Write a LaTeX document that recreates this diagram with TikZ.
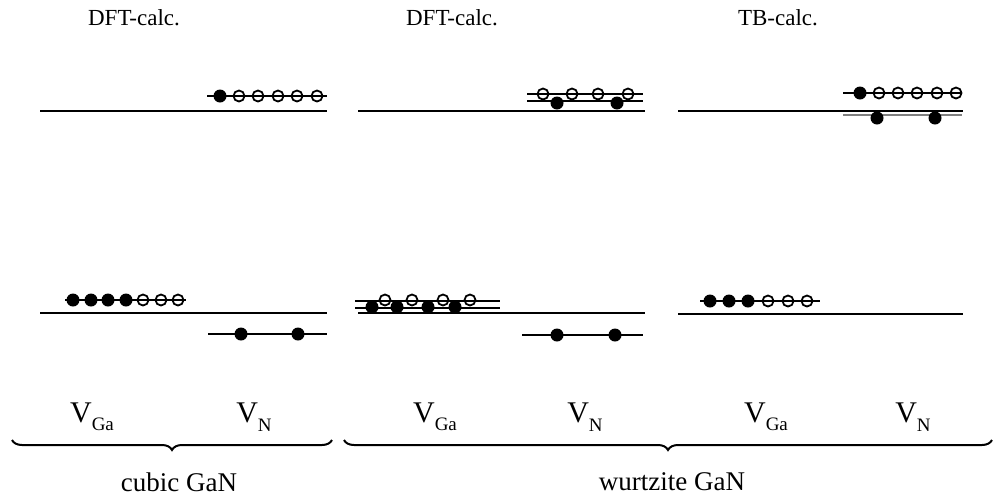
\documentclass[tikz,border=0pt]{standalone}
\usepackage{fontspec}
\setmainfont{Liberation Serif}
\usetikzlibrary{calc,decorations.pathreplacing}

\tikzset{
    level/.style={line width=2.8pt},
    sublevel/.style={line width=2pt},
    electron/.style={circle, fill=black, inner sep=0pt, minimum size=13pt},
    hole/.style={circle, draw=black, fill=white, line width=1.8pt, inner sep=0pt, minimum size=11pt},
    title/.style={font=\fontsize{23}{26}\selectfont},
    vlabel/.style={font=\fontsize{30}{32}\selectfont},
    crystal/.style={font=\fontsize{27}{30}\selectfont},
    bracket/.style={decorate, decoration={brace, mirror, amplitude=10pt}, line width=2pt}
}
\newcommand{\vac}[1]{V\raisebox{-0.28em}{\fontsize{19}{20}\selectfont #1}}

\begin{document}
\begin{tikzpicture}[x=1pt, y=-1pt]
    \useasboundingbox (0,0) rectangle (994,499);

    \node[title] (dftc) at (134,18) {DFT-calc.};
    \node[title] (dftw) at (452,18) {DFT-calc.};
    \node[title] (tbw) at (778,18) {TB-calc.};

    % cubic, DFT
    \draw[level] (40,111) -- (327,111);
    \draw[level] (40,313) -- (327,313);
    \node[electron] (a1) at (220,96) {};
    \foreach \x [count=\i] in {239,258,278,297,317}
        \node[hole] (ah\i) at (\x,96) {};
    \draw[sublevel] (207,96) -- (327,96);
    \foreach \x [count=\i] in {73,91,108,126}
        \node[electron] (b\i) at (\x,300) {};
    \foreach \x [count=\i] in {143,161,178}
        \node[hole] (bh\i) at (\x,300) {};
    \draw[sublevel] (65,300) -- (186,300);
    \node[electron] (c1) at (241,334) {};
    \node[electron] (c2) at (298,334) {};
    \draw[sublevel] (208,334) -- (327,334);

    % wurtzite, DFT
    \draw[level] (358,111) -- (645,111);
    \draw[level] (358,313) -- (645,313);
    \foreach \x [count=\i] in {543,572,598,628}
        \node[hole] (dh\i) at (\x,94) {};
    \node[electron] (d1) at (557,103) {};
    \node[electron] (d2) at (617,103) {};
    \draw[sublevel] (527,94) -- (643,94);
    \draw[sublevel] (527,101) -- (643,101);
    \foreach \x [count=\i] in {385,412,443,470}
        \node[hole] (eh\i) at (\x,300) {};
    \foreach \x [count=\i] in {372,397,428,455}
        \node[electron] (e\i) at (\x,307) {};
    \draw[sublevel] (355,301) -- (500,301);
    \draw[sublevel] (355,308) -- (500,308);
    \node[electron] (f1) at (557,335) {};
    \node[electron] (f2) at (615,335) {};
    \draw[sublevel] (522,335) -- (643,335);

    % wurtzite, TB
    \draw[level] (678,111) -- (963,111);
    \draw[level] (678,314) -- (963,314);
    \node[electron] (g1) at (860,93) {};
    \foreach \x [count=\i] in {879,898,917,937,956}
        \node[hole] (gh\i) at (\x,93) {};
    \draw[sublevel] (843,93) -- (962,93);
    \draw[sublevel, gray] (843,115) -- (962,115);
    \node[electron] (h1) at (877,118) {};
    \node[electron] (h2) at (935,118) {};
    \foreach \x [count=\i] in {710,729,748}
        \node[electron] (k\i) at (\x,301) {};
    \foreach \x [count=\i] in {768,788,807}
        \node[hole] (kh\i) at (\x,301) {};
    \draw[sublevel] (700,301) -- (820,301);

    % labels
    \node[vlabel] (ga1) at (92,417) {\vac{Ga}};
    \node[vlabel] (n1) at (254,417) {\vac{N}};
    \node[vlabel] (ga2) at (435,417) {\vac{Ga}};
    \node[vlabel] (n2) at (585,417) {\vac{N}};
    \node[vlabel] (ga3) at (766,417) {\vac{Ga}};
    \node[vlabel] (n3) at (913,417) {\vac{N}};

    \coordinate (cl) at (12,440);
    \coordinate (cr) at (332,440);
    \coordinate (wl) at (344,440);
    \coordinate (wr) at (992,440);
    \draw[bracket] (cl) -- (cr);
    \draw[bracket] (wl) -- (wr);
    \node[crystal] (cub) at (179,482) {cubic GaN};
    \node[crystal] (wur) at (672,482) {wurtzite GaN};
\end{tikzpicture}
\end{document}
